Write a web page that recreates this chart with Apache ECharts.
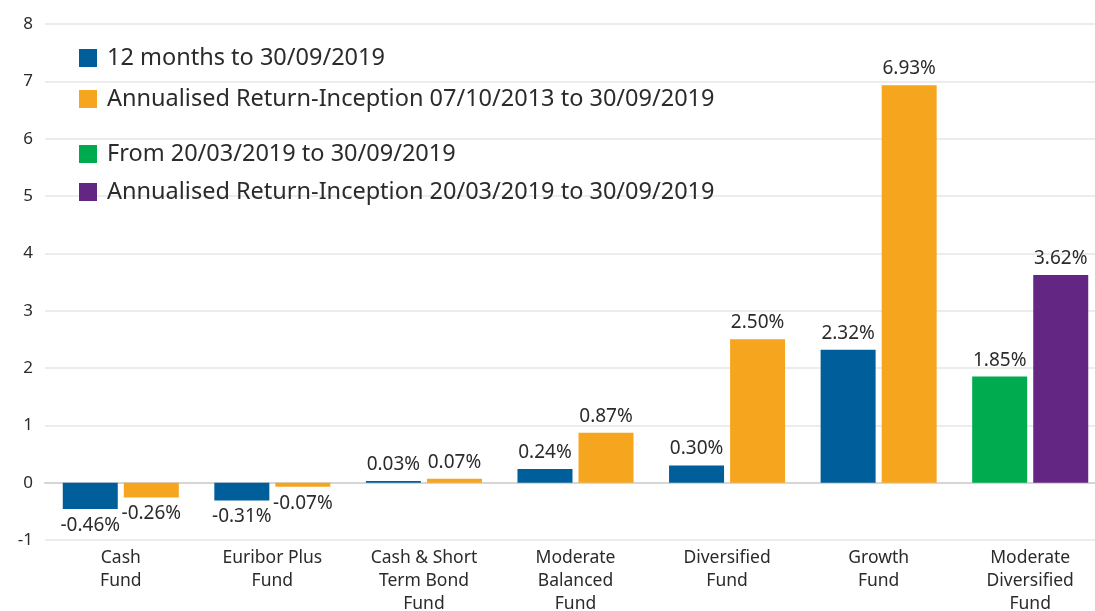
<!DOCTYPE html>
<html>
<head>
<meta charset="utf-8">
<script src="https://cdn.jsdelivr.net/npm/echarts@6/dist/echarts.min.js"></script>
<style>
  html, body { margin: 0; padding: 0; background: #fff; }
  #chart { width: 1095px; height: 611px; }
</style>
</head>
<body>
<div id="chart"></div>
<script>
// fund names (x axis)
const funds = [
  'Cash\nFund',
  'Euribor Plus\nFund',
  'Cash & Short\nTerm Bond\nFund',
  'Moderate\nBalanced\nFund',
  'Diversified\nFund',
  'Growth\nFund',
  'Moderate\nDiversified\nFund'
];

const seriesNames = [
  '12 months to 30/09/2019',
  'Annualised Return-Inception 07/10/2013 to 30/09/2019',
  'From 20/03/2019 to 30/09/2019',
  'Annualised Return-Inception 20/03/2019 to 30/09/2019'
];

// returns in %
const twelveMonths = [-0.46, -0.31, 0.03, 0.24, 0.30, 2.32, null];
const sinceInception2013 = [-0.26, -0.07, 0.07, 0.87, 2.50, 6.93, null];
const from2019 = [null, null, null, null, null, null, 1.85];
const sinceInception2019 = [null, null, null, null, null, null, 3.62];

const yTicks = [-1, 0, 1, 2, 3, 4, 5, 6, 7, 8];

const colors = ['#005E9A', '#F6A51F', '#00AA4F', '#642683'];
const FONT = 'Noto Sans';
const TEXT = '#2b2b2b';

// negative bars get their label under the bar
const toData = (arr) => arr.map(v => {
  if (v === null) return '-';
  return {
    value: v,
    label: {position: v < 0 ? 'bottom' : 'top'}
  };
});

const makeSeries = (idx, arr, stack) => ({
  name: seriesNames[idx],
  type: 'bar',
  stack: stack,
  barWidth: 55,
  barGap: '11%',
  itemStyle: {color: colors[idx]},
  label: {
    show: true,
    distance: 7,
    fontFamily: FONT,
    fontSize: 19,
    color: TEXT,
    formatter: p => p.value.toFixed(2) + '%'
  },
  data: toData(arr)
});

// one legend per entry so each row sits where the original has it
const legendTops = [46, 87, 142, 180];
const legends = seriesNames.map((n, i) => ({
  data: [n],
  left: 79,
  top: legendTops[i],
  padding: 0,
  itemWidth: 18,
  itemHeight: 18,
  itemGap: 0,
  icon: 'rect',
  selectedMode: false,
  textStyle: {fontFamily: FONT, fontSize: 23.5, color: TEXT, padding: [0, 0, 0, 5]}
}));

const chart = echarts.init(document.getElementById('chart'), null, {renderer: 'canvas'});

chart.setOption({
  animation: false,
  legend: legends,
  grid: {
    left: 45,
    top: 24,
    width: 1061,
    bottom: 71,
    containLabel: false,
    outerBoundsMode: 'none'
  },
  xAxis: {
    type: 'category',
    data: funds,
    axisLine: {onZero: true, lineStyle: {color: '#d6d6d6', width: 2}},
    axisTick: {show: false},
    axisLabel: {
      interval: 0,
      margin: 7,
      fontFamily: FONT,
      fontSize: 17.5,
      lineHeight: 23,
      color: TEXT,
      verticalAlign: 'top'
    }
  },
  yAxis: {
    type: 'value',
    min: yTicks[0],
    max: yTicks[yTicks.length - 1],
    interval: 1,
    axisLine: {show: false},
    axisTick: {show: false},
    axisLabel: {
      margin: 12,
      fontFamily: FONT,
      fontSize: 17,
      color: TEXT
    },
    splitLine: {lineStyle: {color: '#e6e6e6', width: 1.5}}
  },
  series: [
    makeSeries(0, twelveMonths, 'a'),
    makeSeries(1, sinceInception2013, 'b'),
    makeSeries(2, from2019, 'a'),
    makeSeries(3, sinceInception2019, 'b')
  ]
});
</script>
</body>
</html>
